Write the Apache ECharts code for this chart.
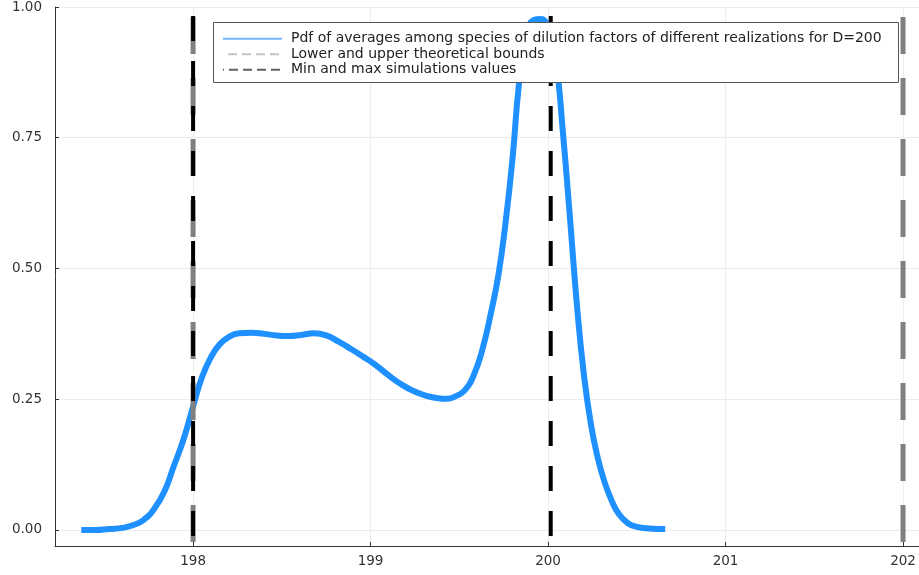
<!DOCTYPE html>
<html>
<head>
<meta charset="utf-8">
<script src="https://cdn.jsdelivr.net/npm/echarts@6/dist/echarts.min.js"></script>
<style>
html,body{margin:0;padding:0;background:#fff;}
#chart{width:919px;height:575px;}
</style>
</head>
<body>
<div id="chart"></div>
<script>
// ---- data ----
const pdfX = [197.37,197.45,197.53,197.60,197.66,197.72,197.78,197.84,197.89,197.945,198.00,198.05,198.10,198.15,198.20,198.26,198.33,198.40,198.47,198.54,198.61,198.68,198.75,198.82,198.89,198.96,199.03,199.10,199.17,199.24,199.31,199.38,199.43,199.48,199.53,199.58,199.63,199.68,199.72,199.76,199.80,199.835,199.875,199.92,199.96,200.00,200.04,200.085,200.125,200.165,200.20,200.24,200.28,200.32,200.36,200.40,200.45,200.50,200.57,200.66];
const pdfY = [0.000,0.000,0.002,0.004,0.009,0.019,0.040,0.075,0.121,0.172,0.236,0.292,0.330,0.355,0.369,0.376,0.377,0.375,0.372,0.371,0.373,0.376,0.372,0.360,0.346,0.331,0.315,0.296,0.279,0.266,0.257,0.252,0.251,0.256,0.267,0.295,0.345,0.418,0.487,0.586,0.711,0.849,0.945,0.975,0.977,0.960,0.910,0.755,0.590,0.421,0.303,0.205,0.138,0.090,0.055,0.030,0.013,0.006,0.003,0.002];
const boundsX = [198, 202];
const simX = [198.0, 200.015];
const xTicks = [198, 199, 200, 201, 202];
const yTicks = [0, 0.25, 0.5, 0.75, 1.0];
const names = [
  'Pdf of averages among species of dilution factors of different realizations for D=200',
  'Lower and upper theoretical bounds',
  'Min and max simulations values'
];
const xRange = [197.222, 202.09];
const yRange = [-0.0306, 1.0];

// ---- chart ----
const chart = echarts.init(document.getElementById('chart'), null, {renderer: 'canvas'});
const font = 'DejaVu Sans';

const series = [{
  name: names[0],
  type: 'line',
  data: pdfX.map((x, i) => [x, pdfY[i]]),
  smooth: 0.5,
  symbol: 'none',
  lineStyle: {color: '#1E90FF', width: 6},
  itemStyle: {color: '#1E90FF'},
  z: 2
}];
boundsX.forEach(x => series.push({
  name: names[1],
  type: 'line',
  data: [[x, yRange[1]], [x, yRange[0]]],
  symbol: 'none',
  lineStyle: {color: '#808080', width: 5, type: [37, 24], dashOffset: 51},
  itemStyle: {color: '#808080'},
  z: 3
}));
simX.forEach(x => series.push({
  name: names[2],
  type: 'line',
  data: [[x, yRange[1]], [x, yRange[0]]],
  symbol: 'none',
  lineStyle: {color: '#000000', width: 4, type: [25, 20], dashOffset: 36},
  itemStyle: {color: '#000000'},
  z: 4
}));

const axisCommon = {
  axisLine: {show: true, onZero: false, lineStyle: {color: '#333', width: 1}},
  axisTick: {show: true, inside: true, length: 4, lineStyle: {color: '#333'}},
  splitLine: {show: true, lineStyle: {color: '#ececec', width: 1}},
  axisLabel: {color: '#333', fontFamily: font, fontSize: 13.5}
};

const hidden = {opacity: 0, color: 'rgba(0,0,0,0)', borderWidth: 0};

chart.setOption({
  animation: false,
  backgroundColor: '#ffffff',
  grid: {left: 55, right: 0, top: 7, bottom: 29, containLabel: false},
  xAxis: {
    type: 'value',
    min: xRange[0], max: xRange[1],
    axisLine: axisCommon.axisLine,
    axisTick: Object.assign({}, axisCommon.axisTick, {customValues: xTicks}),
    splitLine: axisCommon.splitLine,
    axisLabel: Object.assign({}, axisCommon.axisLabel, {customValues: xTicks, margin: 8, formatter: v => String(v)})
  },
  yAxis: {
    type: 'value',
    min: yRange[0], max: yRange[1],
    axisLine: axisCommon.axisLine,
    axisTick: Object.assign({}, axisCommon.axisTick, {customValues: yTicks}),
    splitLine: axisCommon.splitLine,
    axisLabel: Object.assign({}, axisCommon.axisLabel, {customValues: yTicks, margin: 13, formatter: v => v.toFixed(2)})
  },
  graphic: [{
    type: 'rect',
    z: 100,
    shape: {x: 213.5, y: 22.5, width: 685, height: 60},
    style: {fill: '#ffffff', stroke: '#555', lineWidth: 1}
  }],
  legend: {
    z: 200,
    orient: 'vertical',
    left: 222,
    top: 31,
    padding: 0,
    itemWidth: 59,
    itemHeight: 14,
    itemGap: 0,
    selectedMode: false,
    textStyle: {color: '#222', fontFamily: font, fontSize: 14, lineHeight: 15.5, padding: [0, 0, 0, 4]},
    data: [
      {name: names[0], itemStyle: hidden, lineStyle: {color: '#74b6ff', width: 2, type: 'solid'}},
      {name: names[1], itemStyle: hidden, lineStyle: {color: '#c4c4c4', width: 2, type: [9, 5]}},
      {name: names[2], itemStyle: hidden, lineStyle: {color: '#606060', width: 2, type: [9, 5]}}
    ]
  },
  series: series
});
</script>
</body>
</html>
